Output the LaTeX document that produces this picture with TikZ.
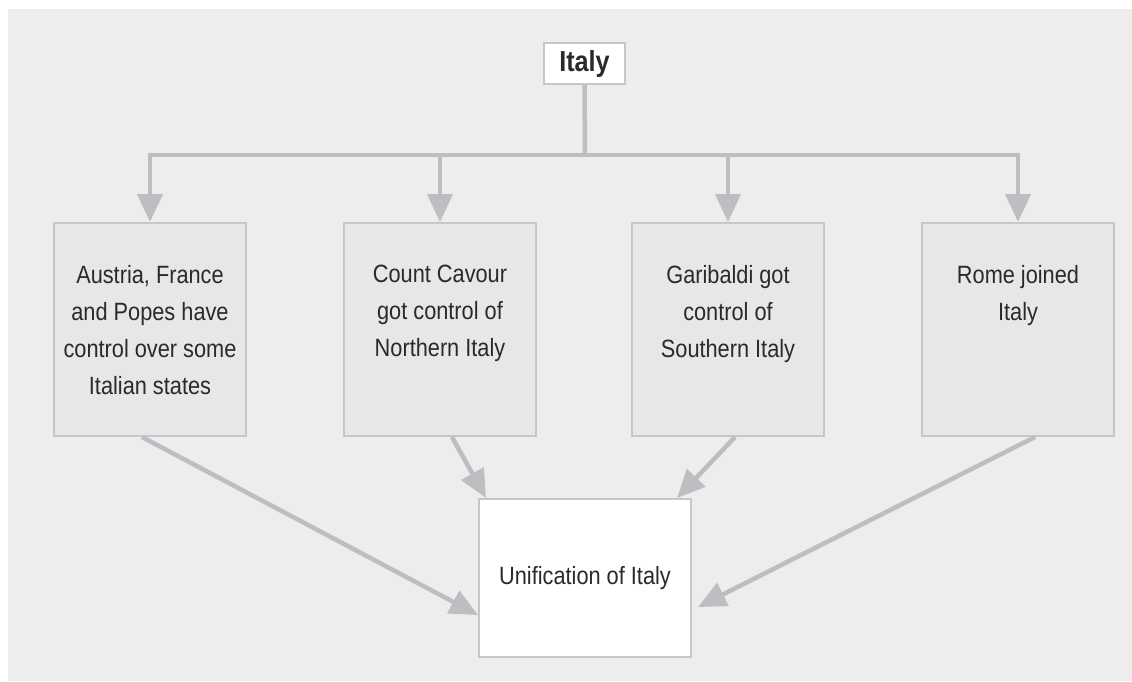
\documentclass[tikz,border=0pt]{standalone}
\usepackage{fontspec}
\setmainfont{Liberation Sans}[FakeStretch=0.87]
\usetikzlibrary{arrows.meta,calc}
\definecolor{panel}{HTML}{EDEDED}
\definecolor{boxfill}{HTML}{E6E7E9}
\definecolor{boxline}{HTML}{C6C7CA}
\definecolor{conn}{HTML}{BCBEC1}
\definecolor{ink}{HTML}{2A2A2C}
\begin{document}
\begin{tikzpicture}[x=1pt,y=-1pt,
  stepbox/.style={draw=boxline,line width=2pt,fill=boxfill,minimum width=192pt,minimum height=213pt,inner sep=0pt},
  boxtext/.style={anchor=north,align=center,inner sep=0pt,text=ink,font=\fontsize{25}{37}\selectfont},
  topbox/.style={draw=boxline,line width=2pt,fill=white,minimum width=81pt,minimum height=41pt,inner sep=0pt,text=ink,font=\fontsize{29}{34}\selectfont\bfseries},
  resultbox/.style={draw=boxline,line width=2pt,fill=white,minimum width=212pt,minimum height=158pt,inner sep=0pt,text=ink,font=\fontsize{25}{30}\selectfont},
  link/.style={draw=conn,line width=4.5pt},
  arr/.style={link,-{Triangle[length=28pt,width=25pt]}}]
  \useasboundingbox (0,0) rectangle (1132,681);
  \fill[white] (0,0) rectangle (1132,681);
  \fill[panel] (8,9) rectangle (1132,681);

  % top node and bus
  \node[topbox] (it) at (584.5,63.5) {Italy};
  \coordinate (bus) at (585,155);

  % four cause boxes
  \node[stepbox] (b1) at (150,329.5) {};
  \node[stepbox] (b2) at (440,329.5) {};
  \node[stepbox] (b3) at (728,329.5) {};
  \node[stepbox] (b4) at (1018,329.5) {};
  \node[boxtext] (t1) at (150,265) {Austria, France\\and Popes have\\control over some\\Italian states};
  \node[boxtext] (t2) at (440,265) {Count Cavour\\got control of\\Northern Italy};
  \node[boxtext] (t3) at (728,265) {Garibaldi got\\control of\\Southern Italy};
  \node[boxtext] (t4) at (1018,265) {Rome joined\\Italy};

  % result box
  \node[resultbox] (u) at (585,578) {Unification of Italy};

  % branching from the top node
  \draw[link] (it.south) -- (bus);
  \draw[link,line cap=rect] (b1.north |- bus) -- (b4.north |- bus);
  \foreach \b in {b1,b2,b3,b4}
    \draw[arr] (\b.north |- bus) -- (\b.north);

  % causes leading to unification
  \draw[arr] ($(b1.south)+(-8,0)$) -- ($(u.west)+(0,37)$);
  \draw[arr] ($(b2.south)+(12,0)$) -- ($(u.north west)+(8,0)$);
  \draw[arr] ($(b3.south)+(7,0)$) -- ($(u.north east)+(-15,0)$);
  \draw[arr] ($(b4.south)+(17,0)$) -- ($(u.east)+(6,29)$);
\end{tikzpicture}
\end{document}
